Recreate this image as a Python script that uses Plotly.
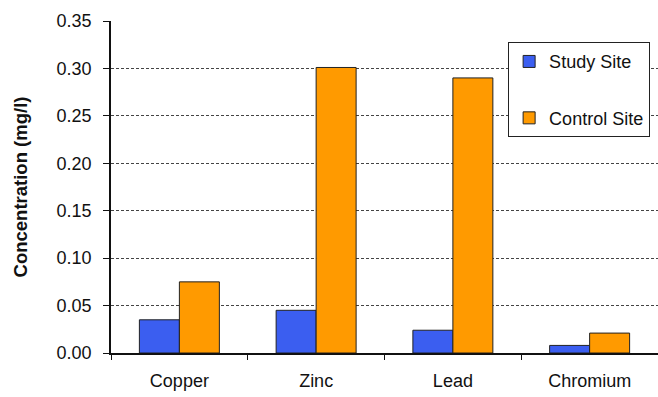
import plotly.graph_objects as go

metals = ["Copper", "Zinc", "Lead", "Chromium"]
study_site = [0.035, 0.045, 0.024, 0.008]
control_site = [0.075, 0.301, 0.290, 0.021]
y_ticks = [0.00, 0.05, 0.10, 0.15, 0.20, 0.25, 0.30, 0.35]
y_tick_labels = ["0.00", "0.05", "0.10", "0.15", "0.20", "0.25", "0.30", "0.35"]

FONT = "Liberation Sans, Arial, sans-serif"

fig = go.Figure()
fig.add_trace(go.Bar(
    x=metals, y=study_site, name="Study Site", legendgroup="a",
    marker=dict(color="#3b5ef0", line=dict(color="#222222", width=1)),
))
fig.add_trace(go.Bar(
    x=metals, y=control_site, name="Control Site", legendgroup="b",
    marker=dict(color="#ff9a00", line=dict(color="#222222", width=1)),
))

fig.update_layout(
    width=658, height=397,
    margin=dict(l=111, r=0, t=21, b=44),
    paper_bgcolor="white", plot_bgcolor="white",
    barmode="group", bargap=0.415, bargroupgap=0,
    font=dict(family=FONT, size=18, color="#111111"),
    legend=dict(
        x=0.726, y=0.936, xanchor="left", yanchor="top",
        bgcolor="white", bordercolor="#222222", borderwidth=1,
        font=dict(size=18, family=FONT, color="#111111"),
        tracegroupgap=30, itemwidth=30,
    ),
    showlegend=True,
)

fig.update_xaxes(
    showline=True, linecolor="#111111", linewidth=1.5,
    ticks="outside", tickson="boundaries", ticklen=5, tickcolor="#111111",
    ticklabelstandoff=11,
    showgrid=False, tickfont=dict(size=18),
)
fig.update_yaxes(
    range=[0, 0.35], tickvals=y_ticks, ticktext=y_tick_labels,
    showline=True, linecolor="#111111", linewidth=1.5,
    ticks="outside", ticklen=6, tickcolor="#111111",
    ticklabelstandoff=8,
    showgrid=True, gridcolor="#444444", gridwidth=1, griddash="3px,2px",
    zeroline=False, tickfont=dict(size=18),
    title=dict(text="<b>Concentration (mg/l)</b>", font=dict(size=18.5), standoff=24),
)

fig.write_html("out.html")
